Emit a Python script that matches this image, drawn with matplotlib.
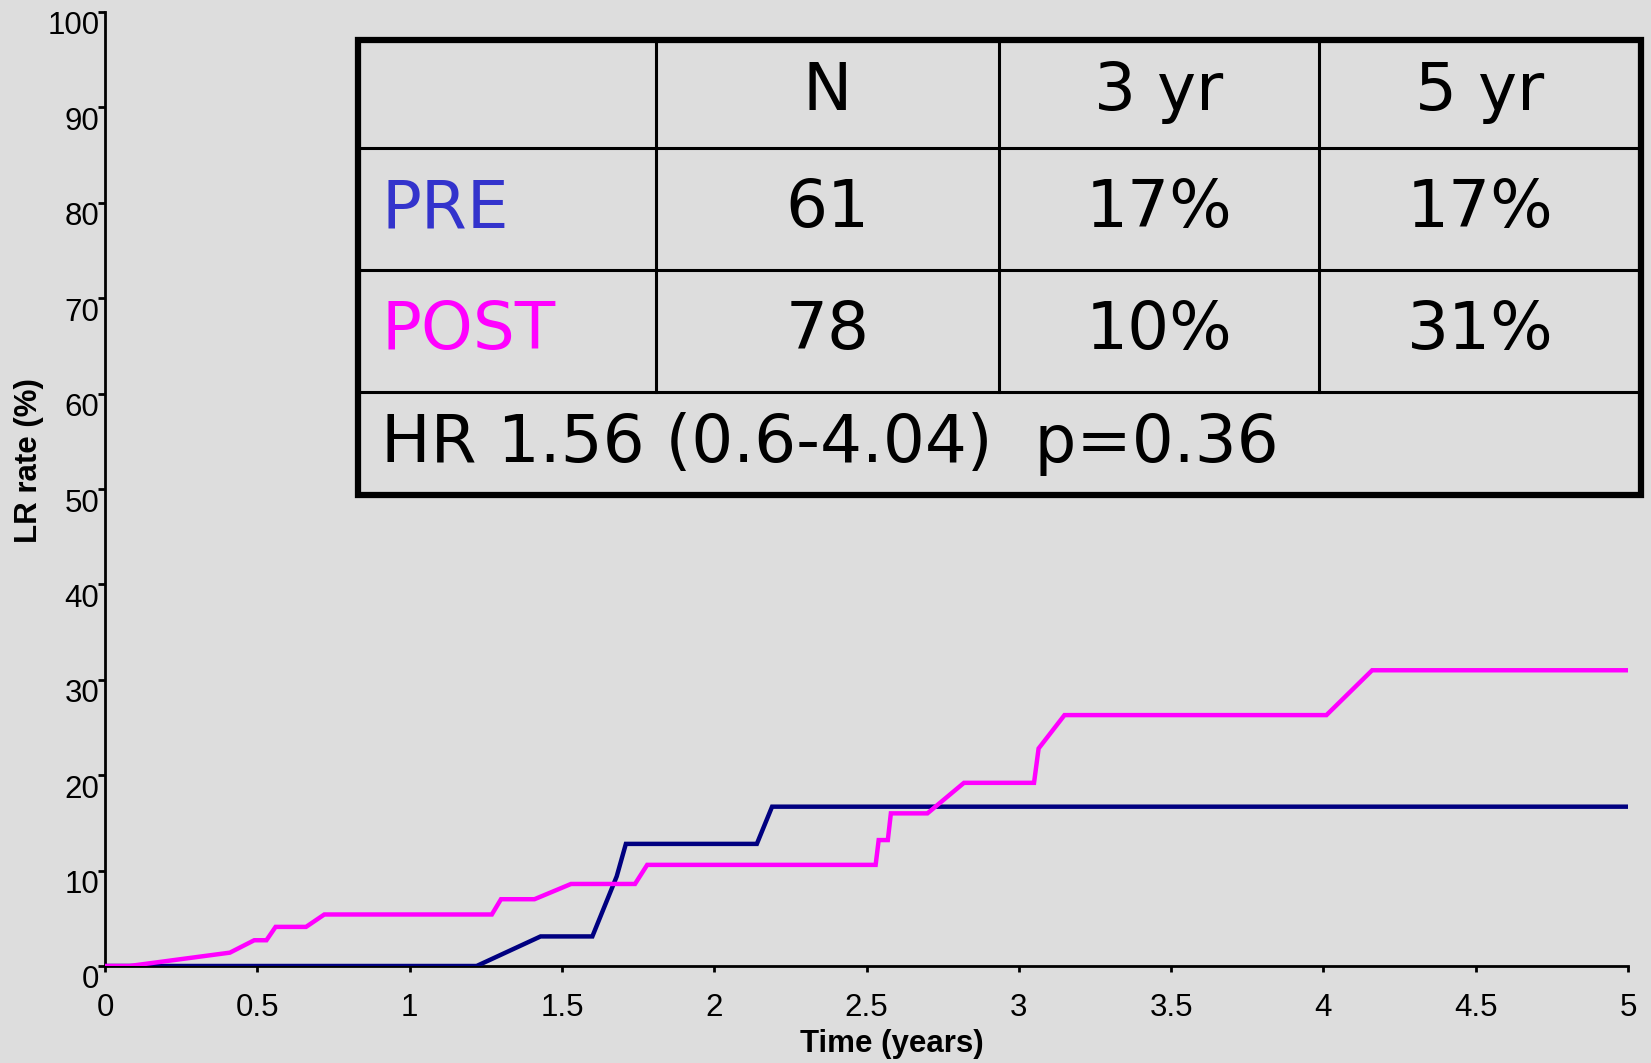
import matplotlib
matplotlib.use("Agg")
import matplotlib.pyplot as plt
import matplotlib.transforms as mtransforms
from matplotlib.lines import Line2D
from matplotlib.patches import Rectangle

# cumulative local recurrence
pre_t = [0, 1.22, 1.43, 1.60, 1.68, 1.71, 2.14, 2.19, 5.0]
pre_r = [0, 0, 3.1, 3.1, 9.4, 12.8, 12.8, 16.7, 16.7]

post_t = [0, 0.08, 0.41, 0.49, 0.53, 0.56, 0.66, 0.72, 1.27, 1.30, 1.41, 1.53,
          1.74, 1.78, 2.53, 2.54, 2.57, 2.58, 2.70, 2.82, 3.05, 3.065, 3.15,
          4.01, 4.16, 5.0]
post_r = [0, 0, 1.4, 2.7, 2.7, 4.1, 4.1, 5.4, 5.4, 7.0, 7.0, 8.6,
          8.6, 10.6, 10.6, 13.2, 13.2, 16.0, 16.0, 19.2, 19.2, 22.8, 26.3,
          26.3, 31.0, 31.0]

x_ticks = [0, 0.5, 1, 1.5, 2, 2.5, 3, 3.5, 4, 4.5, 5]
x_labels = ["0", "0.5", "1", "1.5", "2", "2.5", "3", "3.5", "4", "4.5", "5"]
y_ticks = [0, 10, 20, 30, 40, 50, 60, 70, 80, 90, 100]

# summary table
col_heads = ["", "N", "3 yr", "5 yr"]
groups = ["PRE", "POST"]
n_pts = ["61", "78"]
rate_3yr = ["17%", "10%"]
rate_5yr = ["17%", "31%"]
hr_text = "HR 1.56 (0.6-4.04)  p=0.36"

W, H = 1651, 1063
BG = "#dddddd"
PRE_LINE = "#000080"
POST_LINE = "#ff00ff"
PRE_TEXT = "#3333cc"


def fx(px):
    return px / W


def fy(py):
    return 1 - py / H


fig = plt.figure(figsize=(W / 100, H / 100), dpi=100, facecolor=BG)
ax = fig.add_axes([fx(105), fy(966), (1628 - 105) / W, (966 - 12) / H])
ax.set_facecolor(BG)

ax.plot(pre_t, pre_r, color=PRE_LINE, lw=3.2, solid_joinstyle="miter", zorder=3)
ax.plot(post_t, post_r, color=POST_LINE, lw=3.2, solid_joinstyle="miter", zorder=3)

ax.set_xlim(0, 5)
ax.set_ylim(0, 100)
ax.set_xticks(x_ticks)
ax.set_xticklabels(x_labels)
ax.set_yticks(y_ticks)
for s in ["top", "right"]:
    ax.spines[s].set_visible(False)
for s in ["left", "bottom"]:
    ax.spines[s].set_linewidth(2)
ax.tick_params(axis="x", length=4.5, width=2, pad=15, labelsize=22.5)
ax.tick_params(axis="y", length=5, width=2, pad=-1, labelsize=22.5)
for lab in ax.get_xticklabels() + ax.get_yticklabels():
    lab.set_fontfamily("Liberation Sans")
shift = mtransforms.ScaledTranslation(0, -11 / 100, fig.dpi_scale_trans)
for lab in ax.get_yticklabels():
    lab.set_transform(lab.get_transform() + shift)

fig.text(fx(29), fy(461), "LR rate (%)", rotation=90, ha="center", va="center",
         fontsize=22.5, fontweight="bold", family="Liberation Sans")
fig.text(fx(892), fy(1044), "Time (years)", ha="center", va="center",
         fontsize=22.5, fontweight="bold", family="Liberation Sans")

# table drawn in figure pixels
left, right, top, bottom = 358, 1641, 40, 495
col_x = [358, 656, 999, 1319, 1641]
row_y = [40, 148, 270, 392, 495]

for y in row_y[1:-1]:
    fig.add_artist(Line2D([fx(left), fx(right)], [fy(y), fy(y)], color="black",
                          lw=2.2, transform=fig.transFigure))
for x in col_x[1:-1]:
    fig.add_artist(Line2D([fx(x), fx(x)], [fy(top), fy(row_y[3])], color="black",
                          lw=2.2, transform=fig.transFigure))
fig.add_artist(Rectangle((fx(left), fy(bottom)), fx(right) - fx(left),
                         fy(top) - fy(bottom), fill=False, ec="black", lw=4.5,
                         transform=fig.transFigure, joinstyle="miter"))

tfont = dict(fontsize=47.5, family="DejaVu Sans", va="center")
row_c = [(row_y[i] + row_y[i + 1]) / 2 for i in range(4)]
col_c = [(col_x[i] + col_x[i + 1]) / 2 for i in range(4)]

for j in range(1, 4):
    fig.text(fx(col_c[j]), fy(row_c[0] - 2), col_heads[j], ha="center", **tfont)

g_colors = [PRE_TEXT, POST_LINE]
for i in range(2):
    yc = fy(row_c[i + 1])
    fig.text(fx(381), yc, groups[i], ha="left", color=g_colors[i], **tfont)
    fig.text(fx(col_c[1]), yc, n_pts[i], ha="center", **tfont)
    fig.text(fx(col_c[2]), yc, rate_3yr[i], ha="center", **tfont)
    fig.text(fx(col_c[3]), yc, rate_5yr[i], ha="center", **tfont)

fig.text(fx(381), fy(row_c[3]), hr_text, ha="left", **tfont)

fig.savefig("out.png", dpi=100, facecolor=BG)
